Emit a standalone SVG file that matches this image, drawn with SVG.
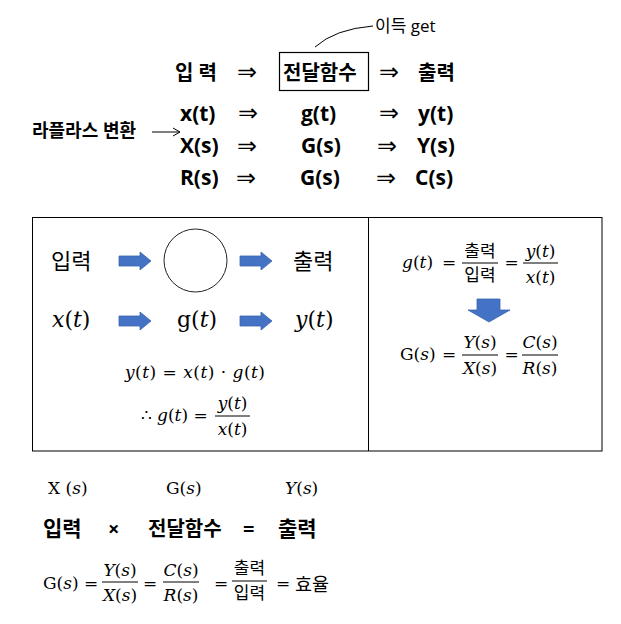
<svg xmlns="http://www.w3.org/2000/svg" width="621" height="624" viewBox="0 0 621 624">
<defs>
<style>
.k{font-family:"Open Sans","Noto Sans CJK KR",sans-serif;fill:#000}
.kb{font-family:"Open Sans","Noto Sans CJK KR",sans-serif;font-weight:700;fill:#000}
.hk{font-family:"Noto Sans CJK KR",sans-serif;fill:#000}
.ar{font-family:"DejaVu Sans",sans-serif;font-size:24px;fill:#000}
.m{font-family:"DejaVu Serif",serif;font-style:italic;fill:#000}
.u{font-style:normal}
.fl{stroke:#000;stroke-width:1}
.blue{fill:#4472C4;stroke:#3B64AE;stroke-width:0.8}
.thin{fill:none;stroke:#000;stroke-width:1}
</style>
</defs>
<rect x="0" y="0" width="621" height="624" fill="#fff"/>

<g id="connectors">
<path class="thin" d="M315,47 Q335,29 373,26"/>
<path class="thin" d="M152,132 H180 M173,128 L180,132 L173,136"/>
<path class="blue" d="M119,256 H140 V252 L151,261 L140,270 V266 H119 Z"/>
<path class="blue" d="M240,256 H261 V252 L272,261 L261,270 V266 H240 Z"/>
<path class="blue" d="M119,316 H140 V312 L151,321 L140,330 V326 H119 Z"/>
<path class="blue" d="M240,316 H261 V312 L272,321 L261,330 V326 H240 Z"/>
<path class="blue" d="M477,299 H500 V310 H510 L489,322 L468,310 H477 Z"/>
</g>

<g id="top-gain">
<text class="k" x="375" y="32" font-size="17">이득 get</text>
</g>

<g id="top-row1">
<text class="kb" x="175" y="80" font-size="20">입 력</text>
<text class="ar" x="237" y="80" textLength="20" lengthAdjust="spacingAndGlyphs">⇒</text>
<rect x="279.5" y="52.5" width="89" height="38" fill="none" stroke="#000" stroke-width="1.2"/>
<text class="kb" x="283" y="80" font-size="20">전달함수</text>
<text class="ar" x="379" y="80" textLength="20" lengthAdjust="spacingAndGlyphs">⇒</text>
<text class="kb" x="418" y="80" font-size="20">출력</text>
</g>

<g id="top-row2">
<text class="kb" x="180" y="121" font-size="21">x(t)</text>
<text class="ar" x="238" y="121" textLength="20" lengthAdjust="spacingAndGlyphs">⇒</text>
<text class="kb" x="301" y="121" font-size="21">g(t)</text>
<text class="ar" x="379" y="121" textLength="20" lengthAdjust="spacingAndGlyphs">⇒</text>
<text class="kb" x="418" y="121" font-size="21">y(t)</text>
</g>

<g id="laplace">
<text class="kb" x="32" y="137" font-size="18">라플라스 변환</text>
</g>

<g id="top-row3">
<text class="kb" x="180" y="153" font-size="21">X(s)</text>
<text class="ar" x="237" y="154" textLength="20" lengthAdjust="spacingAndGlyphs">⇒</text>
<text class="kb" x="301" y="153" font-size="21">G(s)</text>
<text class="ar" x="377" y="154" textLength="20" lengthAdjust="spacingAndGlyphs">⇒</text>
<text class="kb" x="417" y="153" font-size="21">Y(s)</text>
</g>

<g id="top-row4">
<text class="kb" x="180" y="185" font-size="21">R(s)</text>
<text class="ar" x="236" y="186" textLength="20" lengthAdjust="spacingAndGlyphs">⇒</text>
<text class="kb" x="300" y="185" font-size="21">G(s)</text>
<text class="ar" x="376" y="186" textLength="20" lengthAdjust="spacingAndGlyphs">⇒</text>
<text class="kb" x="415" y="185" font-size="21">C(s)</text>
</g>

<g id="panel">
<rect x="32.5" y="217.5" width="569.5" height="233.5" fill="none" stroke="#000" stroke-width="1"/>
<line x1="368.5" y1="217.5" x2="368.5" y2="451" stroke="#000" stroke-width="1"/>
</g>

<g id="left-block">
<text class="hk" x="51" y="269" font-size="22">입력</text>
<circle cx="195.5" cy="260.5" r="31.5" fill="none" stroke="#222" stroke-width="1"/>
<text class="hk" x="293" y="269" font-size="22">출력</text>
<text class="m" x="52" y="327" font-size="22">x<tspan class="u">(</tspan>t<tspan class="u">)</tspan></text>
<text class="m" x="177" y="327" font-size="22"><tspan class="u">g(</tspan>t<tspan class="u">)</tspan></text>
<text class="m" x="295" y="327" font-size="22">y<tspan class="u">(</tspan>t<tspan class="u">)</tspan></text>
</g>

<g id="left-eq">
<text class="m" x="125" y="378" font-size="17" textLength="140" lengthAdjust="spacing">y<tspan class="u">(</tspan>t<tspan class="u">) = </tspan>x<tspan class="u">(</tspan>t<tspan class="u">) · </tspan>g<tspan class="u">(</tspan>t<tspan class="u">)</tspan></text>
<text class="m u" x="141" y="421" font-size="17">∴</text>
<text class="m" x="157" y="421" font-size="17">g<tspan class="u">(</tspan>t<tspan class="u">) =</tspan></text>
<text class="m" x="232.5" y="409" font-size="17" text-anchor="middle">y<tspan class="u">(</tspan>t<tspan class="u">)</tspan></text>
<line class="fl" x1="215" y1="416" x2="250" y2="416"/>
<text class="m" x="232.5" y="435" font-size="17" text-anchor="middle">x<tspan class="u">(</tspan>t<tspan class="u">)</tspan></text>
</g>

<g id="right-eq1">
<text class="m" x="402" y="268" font-size="17">g<tspan class="u">(</tspan>t<tspan class="u">)</tspan></text>
<text class="m u" x="449" y="268" font-size="17" text-anchor="middle">=</text>
<text class="hk" x="480" y="257" font-size="17" text-anchor="middle">출력</text>
<line class="fl" x1="462" y1="263" x2="498" y2="263"/>
<text class="hk" x="480" y="281" font-size="17" text-anchor="middle">입력</text>
<text class="m u" x="511.5" y="268" font-size="17" text-anchor="middle">=</text>
<text class="m" x="540.5" y="257" font-size="17" text-anchor="middle">y<tspan class="u">(</tspan>t<tspan class="u">)</tspan></text>
<line class="fl" x1="523" y1="263" x2="558" y2="263"/>
<text class="m" x="540.5" y="283" font-size="17" text-anchor="middle">x<tspan class="u">(</tspan>t<tspan class="u">)</tspan></text>
</g>

<g id="right-eq2">
<text class="m" x="400" y="360" font-size="17"><tspan class="u">G(</tspan>s<tspan class="u">)</tspan></text>
<text class="m u" x="449" y="360" font-size="17" text-anchor="middle">=</text>
<text class="m" x="480" y="348" font-size="17" text-anchor="middle">Y<tspan class="u">(</tspan>s<tspan class="u">)</tspan></text>
<line class="fl" x1="462" y1="355" x2="498" y2="355"/>
<text class="m" x="480" y="374" font-size="17" text-anchor="middle">X<tspan class="u">(</tspan>s<tspan class="u">)</tspan></text>
<text class="m u" x="511.5" y="360" font-size="17" text-anchor="middle">=</text>
<text class="m" x="540" y="348" font-size="17" text-anchor="middle">C<tspan class="u">(</tspan>s<tspan class="u">)</tspan></text>
<line class="fl" x1="522" y1="355" x2="558" y2="355"/>
<text class="m" x="540" y="374" font-size="17" text-anchor="middle">R<tspan class="u">(</tspan>s<tspan class="u">)</tspan></text>
</g>

<g id="bottom-labels">
<text class="m" x="48" y="494" font-size="17"><tspan class="u">X (</tspan>s<tspan class="u">)</tspan></text>
<text class="m" x="166" y="494" font-size="17"><tspan class="u">G(</tspan>s<tspan class="u">)</tspan></text>
<text class="m" x="285" y="494" font-size="17">Y<tspan class="u">(</tspan>s<tspan class="u">)</tspan></text>
</g>

<g id="bottom-row">
<text class="kb" x="43" y="536" font-size="21">입력</text>
<text class="kb" x="108" y="536" font-size="20">×</text>
<text class="kb" x="148" y="536" font-size="20">전달함수</text>
<text class="kb" x="243" y="536" font-size="20">=</text>
<text class="kb" x="278" y="536" font-size="21">출력</text>
</g>

<g id="bottom-eq">
<text class="m" x="43" y="589" font-size="17"><tspan class="u">G(</tspan>s<tspan class="u">)</tspan></text>
<text class="m u" x="91" y="589" font-size="17" text-anchor="middle">=</text>
<text class="m" x="120" y="576" font-size="17" text-anchor="middle">Y<tspan class="u">(</tspan>s<tspan class="u">)</tspan></text>
<line class="fl" x1="102" y1="582" x2="138" y2="582"/>
<text class="m" x="120" y="601" font-size="17" text-anchor="middle">X<tspan class="u">(</tspan>s<tspan class="u">)</tspan></text>
<text class="m u" x="150" y="589" font-size="17" text-anchor="middle">=</text>
<text class="m" x="181" y="576" font-size="17" text-anchor="middle">C<tspan class="u">(</tspan>s<tspan class="u">)</tspan></text>
<line class="fl" x1="163" y1="582" x2="199" y2="582"/>
<text class="m" x="181" y="601" font-size="17" text-anchor="middle">R<tspan class="u">(</tspan>s<tspan class="u">)</tspan></text>
<text class="m u" x="221" y="589" font-size="17" text-anchor="middle">=</text>
<text class="hk" x="249.5" y="574" font-size="17" text-anchor="middle">출력</text>
<line class="fl" x1="232" y1="581" x2="267" y2="581"/>
<text class="hk" x="249.5" y="599" font-size="17" text-anchor="middle">입력</text>
<text class="m u" x="283" y="589" font-size="17" text-anchor="middle">=</text>
<text class="hk" x="295" y="591" font-size="18.5">효율</text>
</g>
</svg>
